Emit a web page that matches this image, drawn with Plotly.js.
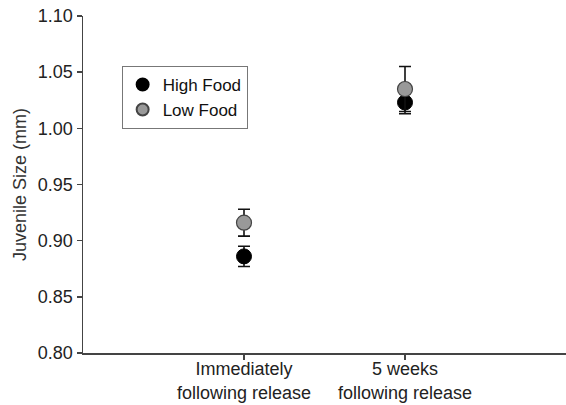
<!DOCTYPE html>
<html>
<head>
<meta charset="utf-8">
<script src="https://cdn.plot.ly/plotly-3.0.1.min.js"></script>
<style>html,body{margin:0;padding:0;background:#fff;}#chart{width:566px;height:405px;}</style>
</head>
<body>
<div id="chart"></div>
<script>
const categories = ["Immediately<br>following release", "5 weeks<br>following release"];
const highFood = [0.886, 1.023];
const highFoodErr = [0.009, 0.010];
const lowFood = [0.916, 1.035];
const lowFoodErr = [0.012, 0.020];
const yTicks = [0.80, 0.85, 0.90, 0.95, 1.00, 1.05, 1.10];

const errStyle = {type: 'data', visible: true, color: '#111', thickness: 1.6, width: 6};

const traces = [
  {
    name: 'High Food', x: categories, y: highFood, type: 'scatter', mode: 'markers',
    error_y: Object.assign({array: highFoodErr}, errStyle),
    marker: {size: 15, color: '#000', line: {color: '#000', width: 1}}
  },
  {
    name: 'Low Food', x: categories, y: lowFood, type: 'scatter', mode: 'markers',
    error_y: Object.assign({array: lowFoodErr}, errStyle),
    marker: {size: 15, color: '#999', line: {color: '#444', width: 1.2}}
  }
];

const layout = {
  width: 566, height: 405,
  margin: {l: 83, r: 0, t: 16, b: 52},
  paper_bgcolor: '#fff', plot_bgcolor: '#fff',
  font: {family: 'Liberation Sans, Arial, sans-serif', size: 18, color: '#222'},
  showlegend: true,
  legend: {
    x: 0.08, y: 0.852, xanchor: 'left', yanchor: 'top',
    bordercolor: '#777', borderwidth: 1, bgcolor: '#fff',
    font: {size: 17, color: '#111'}, itemsizing: 'constant',
    tracegroupgap: 0, itemwidth: 30
  },
  xaxis: {
    type: 'category', range: [-1, 2],
    showgrid: false, zeroline: false,
    showline: true, linecolor: '#444', linewidth: 1.5,
    ticks: 'outside', ticklen: 5, tickcolor: '#444', tickwidth: 1.5,
    tickfont: {size: 18, color: '#222'}, ticklabelstandoff: -6
  },
  yaxis: {
    range: [0.80, 1.10], tickvals: yTicks, tickformat: '.2f',
    showgrid: false, zeroline: false,
    showline: true, linecolor: '#444', linewidth: 1.5,
    ticks: 'outside', ticklen: 5, tickcolor: '#444', tickwidth: 1.5,
    tickfont: {size: 18, color: '#222'},
    title: {text: 'Juvenile Size (mm)', font: {size: 18, color: '#333'}, standoff: 6}
  }
};

Plotly.newPlot('chart', traces, layout, {displayModeBar: false, staticPlot: true});
</script>
</body>
</html>
